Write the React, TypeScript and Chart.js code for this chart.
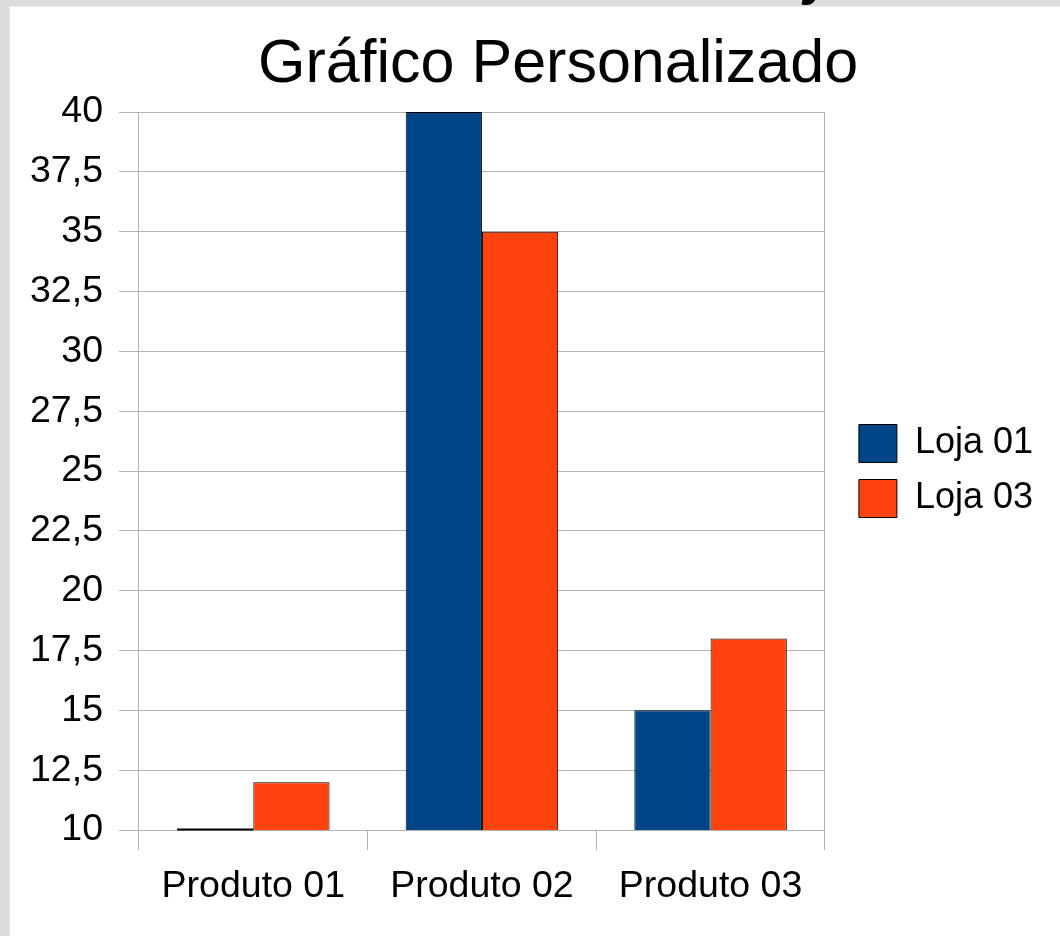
import React, { useEffect, useRef } from "react";
import { Chart, registerables } from "chart.js";

Chart.register(...registerables);

const categories = ["Produto 01", "Produto 02", "Produto 03"];
const loja01 = [10, 40, 15];
const loja03 = [12, 35, 18];
const seriesNames = ["Loja 01", "Loja 03"];
const yMin = 10;
const yMax = 40;
const yStep = 2.5;
const chartTitle = "Gráfico Personalizado";

const FONT = "'Liberation Sans', Arial, sans-serif";
const GRID = "#b3b3b3";

const titlePlugin = {
  id: "customTitle",
  afterDraw(chart: any) {
    const ctx = chart.ctx;
    ctx.save();
    ctx.font = `normal 61px ${FONT}`;
    ctx.fillStyle = "#000";
    ctx.textAlign = "center";
    ctx.textBaseline = "alphabetic";
    ctx.fillText(chartTitle, 548, 75);
    ctx.restore();
  },
};

// bars whose value sits on the axis minimum are shown as their black outline line
const zeroBarPlugin = {
  id: "zeroBars",
  afterDraw(chart: any) {
    const ctx = chart.ctx;
    const yScale = chart.scales.y;
    const xScale = chart.scales.x;
    const nSets = chart.data.datasets.length;
    const catW = xScale.width / chart.data.labels.length;
    const barW = (catW * 0.667) / nSets;
    ctx.save();
    ctx.fillStyle = "#000";
    chart.data.datasets.forEach((ds: any, i: number) => {
      ds.data.forEach((v: number, j: number) => {
        if (v <= yScale.min) {
          const cx = xScale.getPixelForValue(j);
          const left = cx - (barW * nSets) / 2 + barW * i;
          const py = yScale.getPixelForValue(v);
          ctx.fillRect(left, py - 1.5, barW, 2);
        }
      });
    });
    ctx.restore();
  },
};

export default function App() {
  const ref = useRef<HTMLCanvasElement | null>(null);

  useEffect(() => {
    if (!ref.current) return;
    const chart = new Chart(ref.current, {
      type: "bar",
      data: {
        labels: categories,
        datasets: [
          {
            label: seriesNames[0],
            data: loja01,
            backgroundColor: "#004586",
            borderColor: "#000000",
            borderWidth: 1,
            borderSkipped: false,
          },
          {
            label: seriesNames[1],
            data: loja03,
            backgroundColor: "#ff420e",
            borderColor: "#000000",
            borderWidth: 1,
            borderSkipped: false,
          },
        ],
      },
      options: {
        responsive: false,
        animation: false,
        maintainAspectRatio: false,
        datasets: { bar: { categoryPercentage: 0.667, barPercentage: 1 } },
        layout: { padding: { left: 4, right: 17, top: 105, bottom: 13 } },
        plugins: {
          title: { display: false },
          legend: {
            position: "right",
            fullSize: false,
            maxWidth: 300,
            labels: {
              boxWidth: 38,
              boxHeight: 38,
              padding: 17,
              color: "#000",
              font: { family: FONT, size: 36 },
            },
          },
          tooltip: { enabled: false },
        },
        scales: {
          x: {
            grid: {
              display: true,
              drawOnChartArea: false,
              tickLength: 20,
              color: GRID,
              offset: true,
            },
            border: { color: GRID },
            ticks: { color: "#000", font: { family: FONT, size: 37.5 }, padding: 14 },
          },
          y: {
            min: yMin,
            max: yMax,
            beginAtZero: false,
            grid: { color: GRID, tickLength: 20 },
            border: { color: GRID },
            ticks: {
              stepSize: yStep,
              color: "#000",
              padding: 16,
              font: { family: FONT, size: 37.5 },
              callback: (v: any) => String(v).replace(".", ","),
            },
          },
          yR: {
            type: "linear",
            position: "right",
            display: true,
            grid: { drawOnChartArea: false, drawTicks: false },
            ticks: { display: false },
            border: { color: GRID },
            afterFit: (s: any) => {
              s.width = 17;
            },
          },
        },
      } as any,
      plugins: [titlePlugin, zeroBarPlugin],
    });
    return () => chart.destroy();
  }, []);

  return (
    <div
      style={{
        position: "fixed",
        left: 0,
        top: 0,
        width: 1060,
        height: 936,
        background: "#dcdcdc",
        overflow: "hidden",
      }}
    >
      <div
        style={{
          position: "absolute",
          left: 9,
          top: 6,
          width: 1051,
          height: 930,
          background: "#ebebeb",
        }}
      />
      <div
        style={{
          position: "absolute",
          left: 10,
          top: 7,
          width: 1050,
          height: 929,
          background: "#ffffff",
        }}
      >
        <canvas ref={ref} width={1050} height={929} style={{ display: "block" }} />
      </div>
      <span
        style={{
          position: "absolute",
          left: 808,
          top: -62,
          fontFamily: FONT,
          fontWeight: "bold",
          fontStyle: "italic",
          fontSize: 60,
          lineHeight: "normal",
          color: "#000",
        }}
      >
        j
      </span>
    </div>
  );
}
